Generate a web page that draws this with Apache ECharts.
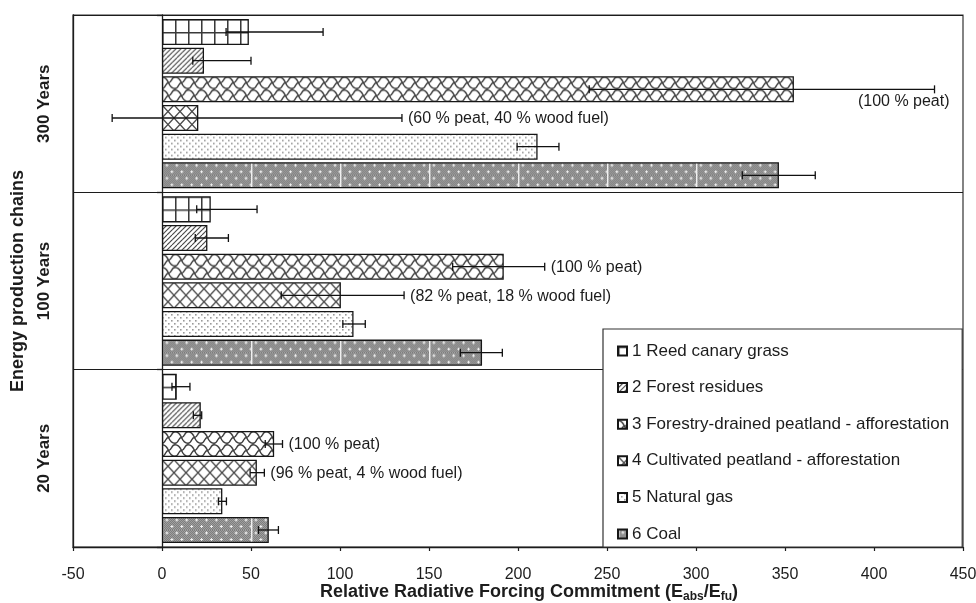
<!DOCTYPE html>
<html><head><meta charset="utf-8">
<script src="https://cdn.jsdelivr.net/npm/echarts@6/dist/echarts.min.js"></script>
<style>html,body{margin:0;padding:0;background:#fff}#chart{width:976px;height:603px}</style>
</head><body><div id="chart"></div>
<script>
// ---------------- data ----------------
const categories = ['300 Years', '100 Years', '20 Years'];
const seriesNames = [
  '1 Reed canary grass',
  '2 Forest residues',
  '3 Forestry-drained peatland - afforestation',
  '4 Cultivated peatland - afforestation',
  '5 Natural gas',
  '6 Coal'
];
const xMin = -50, xMax = 450, xStep = 50;

const reedCanaryGrass = [48.8, 27.4, 8.3];
const forestResidues = [23.6, 25.5, 21.8];
const forestryDrainedPeatland = [355, 192, 63];
const cultivatedPeatland = [20.4, 100.5, 53.3];
const naturalGas = [211, 107.6, 33.9];
const coal = [346.6, 179.8, 60];

const reedErr = [[36, 90.5], [19.5, 53.4], [5.6, 15.7]];
const forestErr = [[17.3, 50], [18.7, 37.3], [17.6, 22.3]];
const forestryErr = [[240, 434], [163.3, 215], [58, 67.7]];
const cultivatedErr = [[-28, 134.8], [67, 136], [49.5, 57.5]];
const gasErr = [[199.5, 223], [101.6, 114.2], [31.7, 36.2]];
const coalErr = [[326, 367], [167.6, 191.2], [54.2, 65.4]];

const forestryNotes = ['(100 % peat)', '(100 % peat)', '(100 % peat)'];
const cultivatedNotes = ['(60 % peat, 40 % wood fuel)', '(82 % peat, 18 % wood fuel)', '(96 % peat, 4 % wood fuel)'];

const allValues = [reedCanaryGrass, forestResidues, forestryDrainedPeatland, cultivatedPeatland, naturalGas, coal];
const allErrs = [reedErr, forestErr, forestryErr, cultivatedErr, gasErr, coalErr];
const allNotes = [null, null, forestryNotes, cultivatedNotes, null, null];

// ---------------- style ----------------
const FONT = "'Liberation Sans', Arial, Helvetica, sans-serif";
const INK = '#1c1c1c';
const CAT_GAP = 0.045, BAR_GAP = 0.10;

function tile(w, h, bg, draw) {
  const c = document.createElement('canvas');
  c.width = w; c.height = h;
  const g = c.getContext('2d');
  g.fillStyle = bg; g.fillRect(0, 0, w, h);
  draw(g, w, h);
  return c;
}
const tiles = [
  // reed canary grass: square grid
  tile(13, 13, '#fff', (g) => {
    g.fillStyle = '#3a3a3a';
    g.fillRect(0, 0, 13, 1.5);
    g.fillRect(0, 0, 1.5, 13);
  }),
  // forest residues: diagonal hatch
  tile(10, 10, '#fff', (g) => {
    g.strokeStyle = '#444'; g.lineWidth = 1.1;
    for (let x0 = -10; x0 <= 10; x0 += 5) {
      g.beginPath(); g.moveTo(x0, 10); g.lineTo(x0 + 10, 0); g.stroke();
    }
  }),
  // forestry drained peatland: wavy scale lattice
  tile(13, 13, '#fff', (g) => {
    g.strokeStyle = '#3a3a3a'; g.lineWidth = 1.4;
    g.beginPath(); g.moveTo(0, 0.7); g.bezierCurveTo(8, 0.7, 5, 12.3, 13, 12.3); g.stroke();
    g.beginPath(); g.moveTo(0, 12.3); g.bezierCurveTo(4, 12.3, 3, 6.5, 6.5, 6.5); g.stroke();
    g.beginPath(); g.moveTo(6.5, 6.5); g.bezierCurveTo(10, 6.5, 9, 0.7, 13, 0.7); g.stroke();
  }),
  // cultivated peatland: diamond crosshatch
  tile(12, 13, '#fff', (g) => {
    g.strokeStyle = '#4a4a4a'; g.lineWidth = 1.3;
    g.beginPath(); g.moveTo(-1.2, -1.3); g.lineTo(13.2, 14.3); g.stroke();
    g.beginPath(); g.moveTo(-1.2, 14.3); g.lineTo(13.2, -1.3); g.stroke();
  }),
  // natural gas: fine dots
  tile(6, 6, '#fff', (g) => {
    g.fillStyle = '#9a9a9a';
    g.fillRect(0, 0, 1.6, 1.6);
    g.fillRect(3, 3, 1.6, 1.6);
  }),
  // coal: dark stipple with white crosses
  tile(89, 13, '#a2a2a2', (g) => {
    g.fillStyle = '#7c7c7c';
    for (let y = 0; y < 13; y++) for (let x = 0; x < 89; x++) if ((x + y) % 2 === 0) g.fillRect(x, y, 1, 1);
    g.fillStyle = '#f4f4f4';
    for (let k = 0; k < 9; k++) {
      const xa = 4.9 + k * 9.89, xb = 9.85 + k * 9.89;
      g.fillRect(xa - 1.5, 2.5, 3, 1); g.fillRect(xa - 0.5, 1.5, 1, 3);
      g.fillRect(xb - 1.5, 9, 3, 1); g.fillRect(xb - 0.5, 8, 1, 3);
    }
    g.fillStyle = '#f0f0f0';
    g.fillRect(0, 0, 1.4, 13);
  })
];
function pattern(s, x, y) {
  return { image: tiles[s], repeat: 'repeat', x: x || 0, y: y || 0 };
}

// measure text
const measureCtx = document.createElement('canvas').getContext('2d');
function textWidth(t, size) { measureCtx.font = size + 'px ' + FONT; return measureCtx.measureText(t).width; }

// ---------------- error bars & notes (custom series) ----------------
const errData = [];
allErrs.forEach((errs, s) => errs.forEach((e, c) => errData.push([c, s, e[0], e[1]])));

function renderErr(params, api) {
  const c = api.value(0), s = api.value(1), lo = api.value(2), hi = api.value(3);
  const center = api.coord([0, c]);
  const band = api.size([0, 1])[1];
  const inner = band * (1 - CAT_GAP);
  const bw = inner / (seriesNames.length + (seriesNames.length - 1) * BAR_GAP);
  const yc = center[1] - inner / 2 + s * bw * (1 + BAR_GAP) + bw / 2;
  const x1 = api.coord([lo, c])[0], x2 = api.coord([hi, c])[0];
  const ls = { stroke: '#111', lineWidth: 1.3 };
  const children = [
    { type: 'line', shape: { x1: x1, y1: yc, x2: x2, y2: yc }, style: ls },
    { type: 'line', shape: { x1: x1, y1: yc - 4, x2: x1, y2: yc + 4 }, style: ls },
    { type: 'line', shape: { x1: x2, y1: yc - 4, x2: x2, y2: yc + 4 }, style: ls }
  ];
  const notes = allNotes[s];
  if (notes && notes[c]) {
    const fs = 16;
    const w = textWidth(notes[c], fs);
    const right = params.coordSys.x + params.coordSys.width;
    let tx, ty, align;
    if (x2 + 7 + w > right - 4) { tx = x2 + 15; ty = yc + 12.5; align = 'right'; }
    else { tx = x2 + 6; ty = yc + 1; align = 'left'; }
    children.push({ type: 'text', x: tx, y: ty, style: { text: notes[c], fill: INK, font: fs + 'px ' + FONT, align: align, verticalAlign: 'middle' } });
  }
  return { type: 'group', children: children };
}

// ---------------- chart ----------------
const chart = echarts.init(document.getElementById('chart'), null, { renderer: 'canvas' });

function barSeries(s, itemColors) {
  return {
    type: 'bar', name: seriesNames[s], yAxisIndex: 0,
    barGap: (BAR_GAP * 100) + '%', barCategoryGap: (CAT_GAP * 100) + '%',
    itemStyle: { color: pattern(s), borderColor: '#161616', borderWidth: 1.3 },
    emphasis: { disabled: true },
    data: allValues[s].map((v, c) => itemColors ? { value: v, itemStyle: { color: itemColors[c] } } : v)
  };
}

const axisLineStyle = { color: INK, width: 1.3 };
const option = {
  animation: false,
  textStyle: { fontFamily: FONT, color: INK },
  grid: { left: 73, right: 13, top: 15, bottom: 56, show: true, borderColor: '#333', borderWidth: 1.2, containLabel: false, outerBoundsMode: 'none' },
  legend: {
    orient: 'vertical', left: 603, top: 329,
    padding: [12, 13, 3, 14],
    itemWidth: 9, itemHeight: 9, itemGap: 16.6,
    backgroundColor: '#fff', borderColor: '#333', borderWidth: 1.2,
    textStyle: { fontSize: 17, color: INK, lineHeight: 20, fontFamily: FONT },
    icon: 'rect', selectedMode: false,
    data: seriesNames
  },
  xAxis: {
    type: 'value', min: xMin, max: xMax, interval: xStep,
    axisLine: { show: true, onZero: false, lineStyle: axisLineStyle },
    axisTick: { show: true, length: 4, lineStyle: { color: INK, width: 1.2 } },
    axisLabel: { fontSize: 16, color: INK, margin: 20, fontFamily: FONT },
    splitLine: { show: false },
    name: 'Relative Radiative Forcing Commitment (E{sub|abs}/E{sub|fu})',
    nameLocation: 'middle', nameGap: 34, nameMoveOverlap: false,
    nameTextStyle: {
      fontSize: 18, fontWeight: 'bold', color: INK, fontFamily: FONT, lineHeight: 22,
      padding: [0, 0, 0, 22],
      rich: { sub: { fontSize: 12, fontWeight: 'bold', color: INK, fontFamily: FONT, verticalAlign: 'bottom', lineHeight: 11 } }
    }
  },
  yAxis: [
    {
      type: 'category', data: categories, inverse: true, position: 'left',
      axisLine: { show: true, onZero: false, lineStyle: axisLineStyle },
      axisTick: { show: false },
      axisLabel: { rotate: 90, fontSize: 17, fontWeight: 'bold', color: INK, margin: 20, fontFamily: FONT },
      splitLine: { show: true, interval: 0, lineStyle: { color: '#1c1c1c', width: 1.2 } },
      name: 'Energy production chains', nameLocation: 'middle', nameGap: 46, nameRotate: 90, nameMoveOverlap: false,
      nameTextStyle: { fontSize: 18, fontWeight: 'bold', color: INK, fontFamily: FONT }
    },
    {
      type: 'category', data: categories, inverse: true, position: 'left',
      axisLine: { show: true, onZero: true, lineStyle: axisLineStyle },
      axisTick: { show: true, length: 5, interval: 0, lineStyle: { color: INK, width: 1.3 } },
      axisLabel: { show: false },
      splitLine: { show: false }
    }
  ],
  series: seriesNames.map((n, s) => barSeries(s, null)).concat([{
    type: 'custom', name: 'errors', yAxisIndex: 0, z: 5,
    renderItem: renderErr,
    dimensions: ['cat', 'series', 'lo', 'hi'],
    encode: { y: 0, x: [2, 3] },
    data: errData,
    silent: true
  }])
};
chart.setOption(option);

// second pass: anchor each bar's fill pattern to the bar's own top edge
const x0 = chart.convertToPixel({ xAxisIndex: 0 }, 0);
const model = chart.getModel();
const newSeries = seriesNames.map((n, s) => {
  const data = model.getSeriesByIndex(s).getData();
  const colors = allValues[s].map((v, c) => {
    const l = data.getItemLayout(c);
    const top = Math.min(l.y, l.y + l.height);
    return pattern(s, x0, top);
  });
  return barSeries(s, colors);
});
chart.setOption({ series: newSeries.concat([option.series[6]]) });
</script>
</body></html>
